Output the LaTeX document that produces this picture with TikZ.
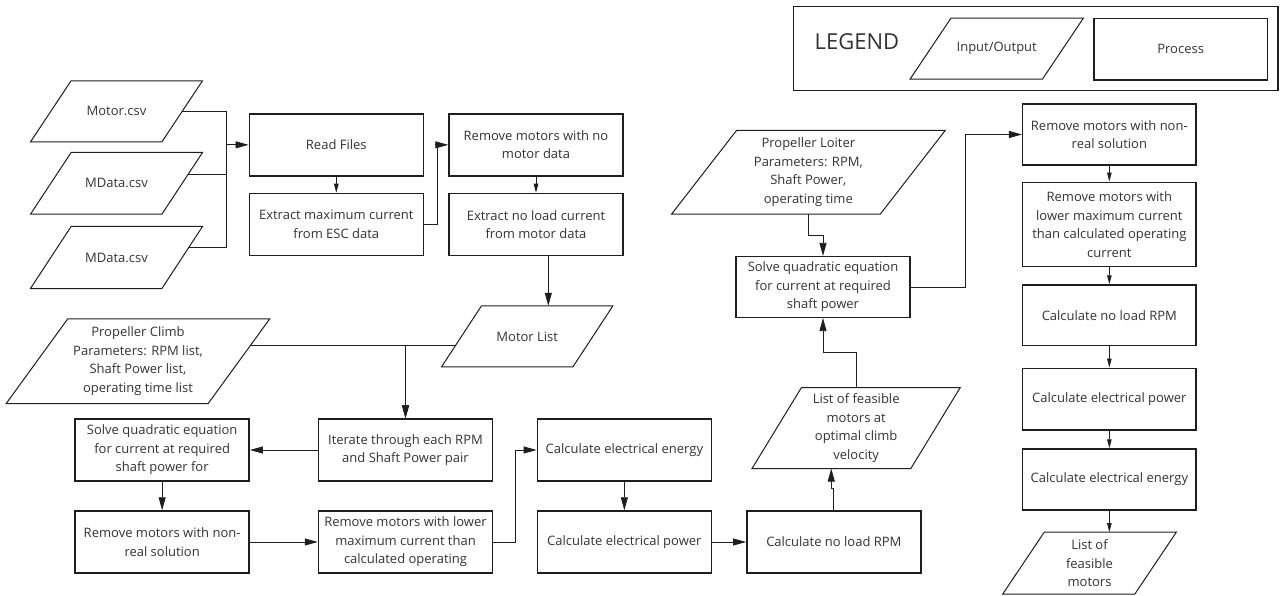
\documentclass[tikz,border=0pt]{standalone}
\usepackage{fontspec}
\setmainfont{Open Sans}
\usetikzlibrary{arrows.meta,calc}
\definecolor{ink}{HTML}{1E1E1E}
\definecolor{txt}{HTML}{333333}
% parallelogram outline around a text node: #1 node name, #2 half of the horizontal slant
\newcommand\iobox[2]{\draw[ioline] ([xshift=-#2]#1.south west) -- ([xshift=-#2]#1.south east) -- ([xshift=#2]#1.north east) -- ([xshift=#2]#1.north west) -- cycle;}
\tikzset{
  base/.style={inner sep=0pt, align=center, text=txt, font=\fontsize{13}{18.5}\selectfont},
  proc/.style={base, draw=ink, line width=1.5pt, minimum width=174pt, minimum height=62pt},
  io/.style={base, minimum width=131pt, minimum height=61pt},
  ioline/.style={draw=ink, line width=1pt, line join=miter},
  conn/.style={draw=ink, line width=0.8pt},
  arr/.style={conn, -{Triangle[length=13pt,width=7pt]}},
  arrs/.style={conn, -{Triangle[length=9pt,width=4.5pt]}},
}
\begin{document}
\begin{tikzpicture}[x=1pt,y=-1pt]
\useasboundingbox (0,0) rectangle (1280,596);

% ---------- legend ----------
\node[draw=ink, line width=1.5pt, minimum width=484.7pt, minimum height=84pt, inner sep=0pt] (legend) at (1035.65,48.7) {};
\node[text=txt, font=\fontsize{22}{26}\selectfont, inner sep=0pt] (legtitle) at (857,41.5) {LEGEND};
\node[io, minimum width=132pt, minimum height=60.7pt] (legio) at (996.7,48.65) {Input/Output};
\iobox{legio}{20.5pt}
\node[proc, minimum width=173.3pt, minimum height=61.7pt] (legproc) at (1180.65,49.15) {Process};

% ---------- input files ----------
\node[io, minimum height=60.7pt] (motorcsv) at (116.5,111.35) {Motor.csv};
\iobox{motorcsv}{20.3pt}
\node[io, minimum height=61.3pt] (mdata1) at (116.5,183.35) {MData.csv};
\iobox{mdata1}{20.3pt}
\node[io, minimum height=61.6pt] (mdata2) at (116.5,257.5) {MData.csv};
\iobox{mdata2}{20.3pt}

% ---------- reading the data ----------
\node[proc] (read) at (336.3,144.85) {Read Files};
\node[proc] (extmax) at (336.3,224.5) {Extract maximum current\\from ESC data};
\node[proc] (rmnod) at (536,144.85) {Remove motors with no\\motor data};
\node[proc] (extnl) at (536,224.5) {Extract no load current\\from motor data};
\node[io, minimum height=60.7pt] (ml) at (527.2,336.35) {Motor List};
\iobox{ml}{20pt}

% ---------- climb branch ----------
\node[io, minimum width=201.6pt, minimum height=84.3pt] (climb) at (138,361.15) {Propeller Climb\\Parameters: RPM list,\\Shaft Power list,\\operating time list};
\iobox{climb}{30.8pt}
\node[proc] (iter) at (405.5,450) {Iterate through each RPM\\and Shaft Power pair};
\node[proc] (solveL) at (162.15,450) {Solve quadratic equation\\for current at required\\shaft power for};
\node[proc] (rnrL) at (162.15,542) {Remove motors with non-\\real solution};
\node[proc] (rlowL) at (405.5,542) {Remove motors with lower\\maximum current than\\calculated operating};
\node[proc] (energy) at (624.35,450) {Calculate electrical energy};
\node[proc] (power) at (624.35,542) {Calculate electrical power};
\node[proc] (nlrpm) at (833.85,542) {Calculate no load RPM};
\node[io, minimum width=158.4pt, minimum height=80.6pt] (feas) at (856.15,428) {List of feasible\\motors at\\optimal climb\\velocity};
\iobox{feas}{24.7pt}

% ---------- loiter branch ----------
\node[io, minimum width=208.3pt, minimum height=83.3pt] (loiter) at (808.35,172.35) {Propeller Loiter\\Parameters: RPM,\\Shaft Power,\\operating time};
\iobox{loiter}{32.5pt}
\node[proc, minimum height=60.6pt] (solveR) at (823,287) {Solve quadratic equation\\for current at required\\shaft power};
\node[proc, minimum width=173.3pt, minimum height=61pt] (rnrR) at (1109.35,134.5) {Remove motors with non-\\real solution};
\node[proc, minimum width=173.3pt, minimum height=84.4pt] (rlowR) at (1109.35,224.5) {Remove motors with\\lower maximum current\\than calculated operating\\current};
\node[proc, minimum width=173.3pt, minimum height=60.7pt] (nlrpmR) at (1109.35,315.35) {Calculate no load RPM};
\node[proc, minimum width=173.3pt, minimum height=61.7pt] (powerR) at (1109.35,399.15) {Calculate electrical power};
\node[proc, minimum width=173.3pt, minimum height=61pt] (energyR) at (1109.35,479.5) {Calculate electrical energy};
\node[io, minimum width=131.7pt, minimum height=61.7pt] (feasR) at (1089.5,563.15) {List of\\feasible\\motors};
\iobox{feasR}{20.85pt}

% ---------- connectors ----------
\coordinate (jfiles) at (226.7,144.85);
\draw[conn] (motorcsv.east) -| (jfiles);
\draw[conn] ($(mdata1.east)+(6.2,-9.35)$) -| (jfiles);
\draw[conn] ($(mdata2.east)+(6.5,-9.8)$) -| (jfiles);
\draw[arr] (jfiles) -- (read.west);
\draw[arrs] (read.south) -- (extmax.north);
\draw[arr] (extmax.east) -- ++(13.4,0) |- (rmnod.west);
\draw[arrs] (rmnod.south) -- (extnl.north);
\coordinate (mlin) at ($(extnl.south)+(12.3,0)$);
\draw[arr] (mlin) -- (mlin |- ml.north);

\draw[arr] ($(climb.east)+(11.3,-15.45)$) -| (iter.north);
\draw[arr] ($(ml.west)+(-6.2,9.35)$) -| (iter.north);
\draw[arr] (iter.west) -- (solveL.east);
\draw[arr] (solveL.south) -- (rnrL.north);
\draw[arr] (rnrL.east) -- (rlowL.west);
\draw[arr] (rlowL.east) -- ++(22.3,0) |- (energy.west);
\draw[arr] (energy.south) -- (power.north);
\draw[arr] (power.east) -- (nlrpm.west);
\draw[arr] (nlrpm.north) -- ++(0,-22) -- ++(-2.6,0) coordinate (jog) -- (jog |- feas.south);
\draw[arr] (feas.north) -- ++(0,-35.4) -| (solveR.south);

\draw[arr] (loiter.south) -- ++(0,21.7) -| (solveR.north);
\draw[arr] (solveR.east) -- ++(55,0) |- (rnrR.west);
\draw[arrs] (rnrR.south) -- (rlowR.north);
\draw[arrs] (rlowR.south) -- (nlrpmR.north);
\draw[arrs] (nlrpmR.south) -- (powerR.north);
\draw[arrs] (powerR.south) -- (energyR.north);
\draw[arrs] (energyR.south) -- (energyR.south |- feasR.north);
\end{tikzpicture}
\end{document}
